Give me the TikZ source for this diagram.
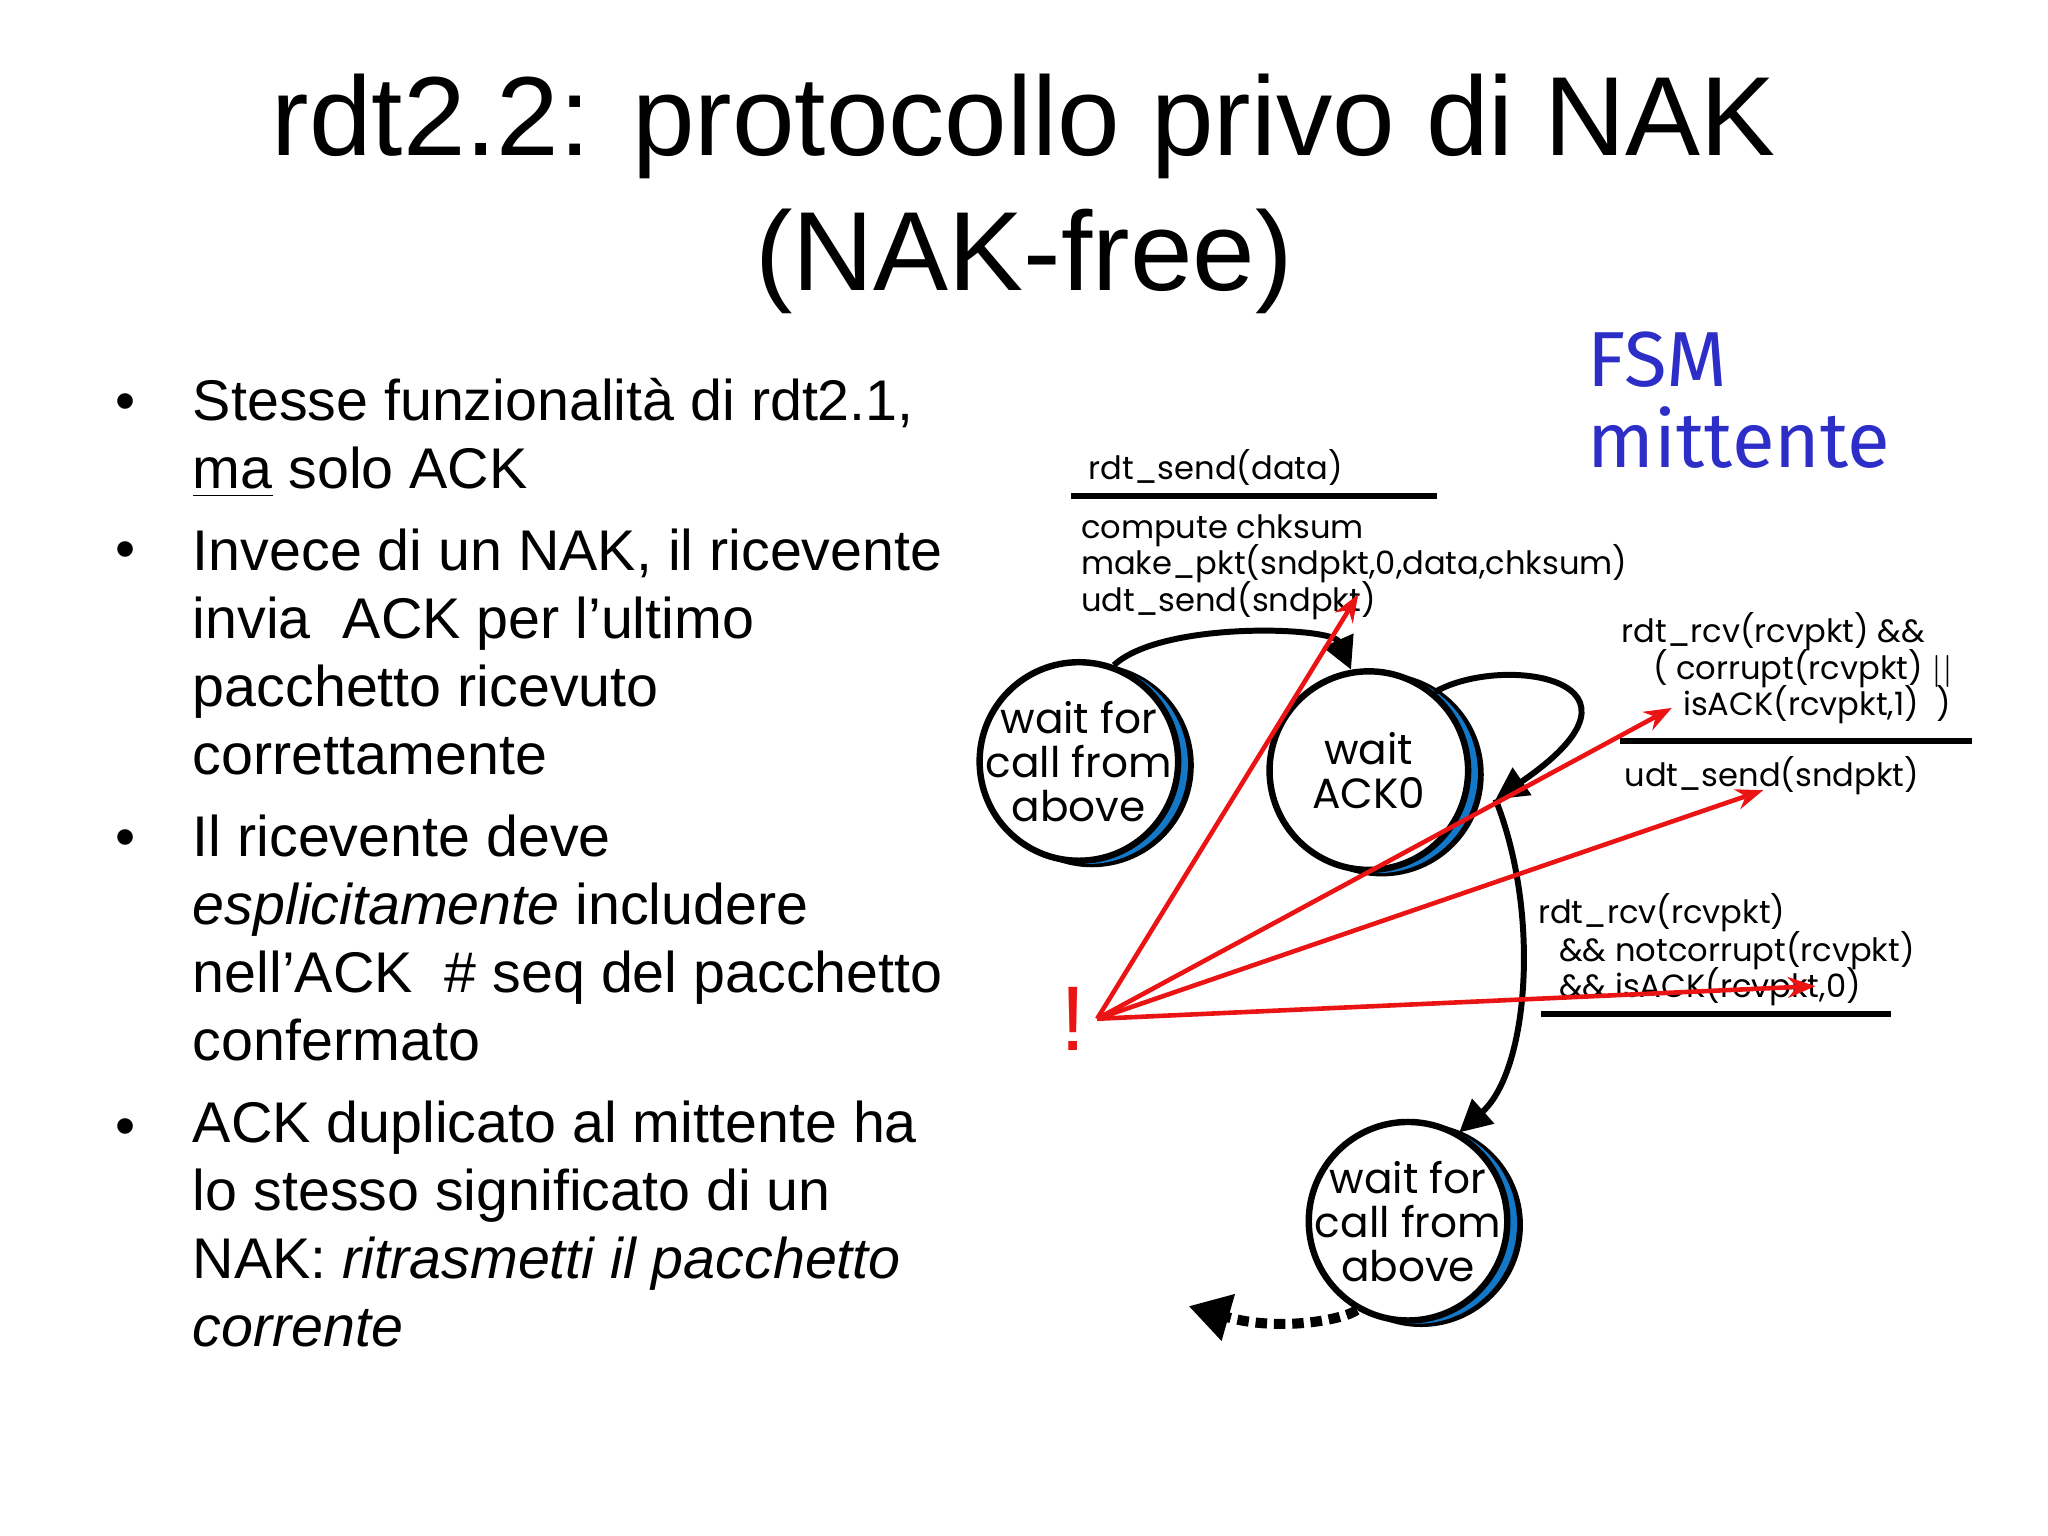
\documentclass[tikz,border=0pt]{standalone}
\usepackage{fontspec}
\setmainfont{Liberation Sans}
\newfontfamily\fsm{Poppins}
\newfontfamily\comicf{Fira Sans}
\usetikzlibrary{arrows.meta}
\definecolor{fsmblue}{RGB}{45,45,200}
\definecolor{ringblue}{RGB}{20,120,200}
\definecolor{rdred}{RGB}{235,20,20}
\tikzset{
 bul/.style={anchor=base west,font=\fontsize{12.5}{15}\selectfont,inner sep=0},
 lab/.style={anchor=base west,font=\fsm\fontsize{7}{9}\selectfont,inner sep=0},
 st/.style={circle,draw=black,line width=1.4pt,fill=white,minimum size=1.52cm,inner sep=-8pt,align=center,font=\fsm\fontsize{9.2}{9.6}\selectfont},
 tr/.style={line width=1.3pt,-{Triangle[length=7pt,width=7pt]}},
 rl/.style={rdred,line width=1pt,-{Stealth[length=6pt]}}
}
\newcommand{\mkstate}[4]{%
 \fill[black] (#1+0.10,#2-0.03) circle (0.78);
 \fill[ringblue] (#1+0.07,#2-0.02) circle (0.765);
 \node[st] (#3) at (#1,#2) {#4};}
\begin{document}
\begin{tikzpicture}
\useasboundingbox (0,0) rectangle (15.68,-11.76);
\node[font=\fontsize{24.5}{27}\selectfont] (t1) at (7.84,-0.97) {rdt2.2: protocollo privo di NAK};
\node[font=\fontsize{24.5}{27}\selectfont] (t2) at (7.84,-2.0) {(NAK-free)};
% bullets
\foreach \y in {3.22,4.35,6.56,8.77} \node[bul] at (0.88,-\y) {•};
\node[bul] (b1) at (1.47,-3.22) {Stesse funzionalità di rdt2.1,};
\node[bul] (b2) at (1.47,-3.74) {\underline{ma} solo ACK};
\node[bul] (b3) at (1.47,-4.37) {Invece di un NAK, il ricevente};
\node[bul] (b4) at (1.47,-4.89) {invia\ \ ACK per l’ultimo};
\node[bul] (b5) at (1.47,-5.41) {pacchetto ricevuto};
\node[bul] (b6) at (1.47,-5.93) {correttamente};
\node[bul] (b7) at (1.47,-6.56) {Il ricevente deve};
\node[bul] (b8) at (1.47,-7.08) {\textit{esplicitamente} includere};
\node[bul] (b9) at (1.47,-7.60) {nell’ACK\ \ \# seq del pacchetto};
\node[bul] (b10) at (1.47,-8.12) {confermato};
\node[bul] (b11) at (1.47,-8.75) {ACK duplicato al mittente ha};
\node[bul] (b12) at (1.47,-9.27) {lo stesso significato di un};
\node[bul] (b13) at (1.47,-9.79) {NAK: \textit{ritrasmetti il pacchetto}};
\node[bul] (b14) at (1.47,-10.31) {\textit{corrente}};
% FSM title
\node[anchor=base west,text=fsmblue,font=\comicf\fontsize{17}{18}\selectfont,inner sep=0] (f1) at (12.15,-2.96) {FSM};
\node[anchor=base west,text=fsmblue,font=\comicf\fontsize{17}{18}\selectfont,inner sep=0] (f2) at (12.15,-3.58) {mittente};
% states
\mkstate{8.26}{-5.83}{s1}{wait for\\call from\\above}
\mkstate{10.48}{-5.90}{s2}{wait\\ACK0}
\mkstate{10.78}{-9.35}{s3}{wait for\\call from\\above}
% labels
\node[lab] (l1) at (8.33,-3.67) {rdt\_send(data)};
\draw[line width=1.3pt] (8.2,-3.80) -- (11.0,-3.80);
\node[lab] (l2) at (8.27,-4.12) {compute chksum};
\node[lab] (l3) at (8.27,-4.40) {make\_pkt(sndpkt,0,data,chksum)};
\node[lab] (l4) at (8.27,-4.68) {udt\_send(sndpkt)};
\node[lab] (r1) at (12.41,-4.92) {rdt\_rcv(rcvpkt) \&\&};
\node[lab] (r2) at (12.65,-5.20) {( corrupt(rcvpkt) $||$};
\node[lab] (r3) at (12.88,-5.48) {isACK(rcvpkt,1) \ )};
\draw[line width=1.3pt] (12.40,-5.67) -- (15.10,-5.67);
\node[lab] (r4) at (12.43,-6.02) {udt\_send(sndpkt)};
\node[lab] (m1) at (11.77,-7.07) {rdt\_rcv(rcvpkt)};
\node[lab] (m2) at (11.93,-7.36) {\&\& notcorrupt(rcvpkt)};
\node[lab] (m3) at (11.93,-7.64) {\&\& isACK(rcvpkt,0)};
\draw[line width=1.3pt] (11.80,-7.76) -- (14.48,-7.76);
% transitions
\draw[tr] (s1.70) .. controls (8.9,-4.75) and (10.2,-4.8) .. (s2.100);
\draw[tr] (s2.50) .. controls (11.5,-5.0) and (12.8,-5.2) .. (11.45,-6.12);
\draw[tr] (11.45,-6.12) .. controls (11.8,-7.0) and (11.7,-8.2) .. (s3.60);
\draw[line width=2.2pt,dash pattern=on 2.5pt off 1.5pt,-{Triangle[length=9pt,width=10pt]}] (s3.-120) .. controls (10.3,-10.1) and (9.8,-10.2) .. (9.1,-10.0);
% red
\coordinate (ex) at (8.40,-7.80);
\node[text=rdred,font=\fontsize{20}{20}\selectfont,inner sep=0] (bang) at (8.22,-7.80) {!};
\draw[rl] (ex) -- (10.40,-4.55);
\draw[rl] (ex) -- (12.80,-5.42);
\draw[rl] (ex) -- (13.50,-6.05);
\draw[rl] (ex) -- (13.90,-7.55);
\end{tikzpicture}
\end{document}
